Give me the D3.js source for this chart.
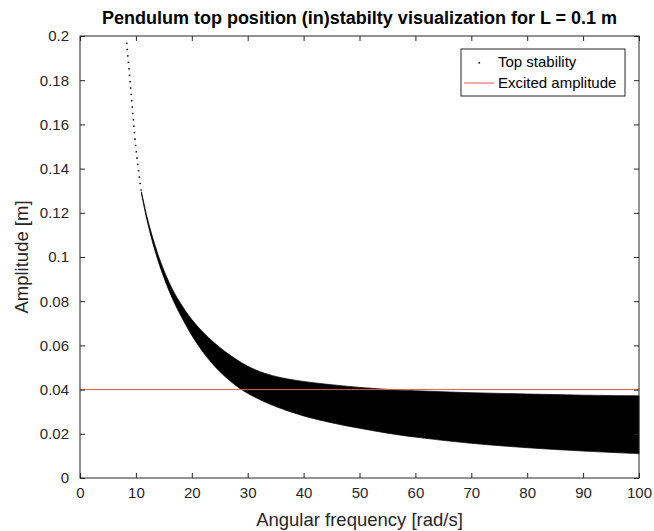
<!DOCTYPE html>
<html><head><meta charset="utf-8">
<script src="https://cdn.jsdelivr.net/npm/d3@7"></script>
<style>body{margin:0;background:#fff}svg{display:block}text{font-family:"Liberation Sans",Arial,sans-serif}</style>
</head><body>
<svg id="c" width="654" height="531"></svg>
<script>
const omega = [8.35, 9, 9.5, 10, 10.5, 11, 12, 13, 14, 15, 16, 17, 18, 20, 22, 24, 26, 28, 30, 33, 36, 40, 45, 50, 55, 60, 70, 80, 90, 100];
const lowerAmp = [0.197, 0.178, 0.163, 0.149, 0.138, 0.1285, 0.1165, 0.1065, 0.0980, 0.0907, 0.0843, 0.0786, 0.0736, 0.0645, 0.0570, 0.0508, 0.0458, 0.0416, 0.0383, 0.0345, 0.0314, 0.0281, 0.0250, 0.0225, 0.0203, 0.0185, 0.0157, 0.0137, 0.0122, 0.0110];
const upperAmp = [0.197, 0.1785, 0.1635, 0.1495, 0.1388, 0.1295, 0.1180, 0.1088, 0.1008, 0.0940, 0.0882, 0.0832, 0.0790, 0.0717, 0.0660, 0.0612, 0.0571, 0.0536, 0.0506, 0.0474, 0.0454, 0.0437, 0.0422, 0.0410, 0.0401, 0.0395, 0.0386, 0.0380, 0.0375, 0.0372];
const excitedAmplitude = 0.04;
const xTicks = [0,10,20,30,40,50,60,70,80,90,100];
const yTicks = [0,0.02,0.04,0.06,0.08,0.1,0.12,0.14,0.16,0.18,0.2];
const chartTitle = "Pendulum top position (in)stabilty visualization for L = 0.1 m";
const xLabel = "Angular frequency [rad/s]";
const yLabel = "Amplitude [m]";
const legendNames = ["Top stability", "Excited amplitude"];

const L = 80, R = 639, T = 36, B = 478;
const svg = d3.select("#c");
const x = d3.scaleLinear().domain([0,100]).range([L,R]);
const y = d3.scaleLinear().domain([0,0.2]).range([B,T]);
const axisCol = "#262626";
const red = "#e05858";

const band = omega.map((w,i)=>({w, lo: lowerAmp[i], hi: upperAmp[i]}));
const dottedEnd = 5; // index where the band becomes solid
const plot = svg.append("g");
plot.append("path")
  .datum(band.slice(dottedEnd))
  .attr("d", d3.area().x(d=>x(d.w)).y0(d=>y(d.lo)).y1(d=>y(d.hi)).curve(d3.curveCatmullRom.alpha(0.5)))
  .attr("fill","#000").attr("stroke","#000").attr("stroke-width",0.7);
plot.append("path")
  .datum(band.slice(0, dottedEnd+1))
  .attr("d", d3.line().x(d=>x(d.w)).y(d=>y((d.lo+d.hi)/2)).curve(d3.curveCatmullRom.alpha(0.5)))
  .attr("fill","none").attr("stroke","#000").attr("stroke-width",1.6).attr("stroke-dasharray","1.4,5");
plot.append("line")
  .attr("x1",x(0)).attr("x2",x(100)).attr("y1",y(excitedAmplitude)).attr("y2",y(excitedAmplitude))
  .attr("stroke",red).attr("stroke-width",1);

// axes (box with inward ticks)
const ax = svg.append("g");
const axBottom = d3.axisBottom(x).tickValues(xTicks).tickSize(-5).tickPadding(9).tickFormat(d3.format("d"));
const axLeft = d3.axisLeft(y).tickValues(yTicks).tickSize(-5).tickPadding(11).tickFormat(d=>d===0?"0":String(+d.toFixed(2)));
const axTop = d3.axisTop(x).tickValues(xTicks).tickSize(-5).tickFormat("");
const axRight = d3.axisRight(y).tickValues(yTicks).tickSize(-5).tickFormat("");
function styleAxis(g){
  g.selectAll("path").attr("stroke",axisCol).attr("stroke-width",1);
  g.selectAll("line").attr("stroke",axisCol).attr("stroke-width",1);
  g.selectAll("text").attr("fill",axisCol).attr("font-size",15).attr("font-family","Liberation Sans, Arial, sans-serif");
}
ax.append("g").attr("transform",`translate(0,${B})`).call(axBottom).call(styleAxis);
ax.append("g").attr("transform",`translate(${L},0)`).call(axLeft).call(styleAxis);
ax.append("g").attr("transform",`translate(0,${T})`).call(axTop).call(styleAxis);
ax.append("g").attr("transform",`translate(${R},0)`).call(axRight).call(styleAxis);
ax.selectAll(".domain").remove();
ax.append("rect").attr("x",L).attr("y",T).attr("width",R-L).attr("height",B-T)
  .attr("fill","none").attr("stroke",axisCol).attr("stroke-width",1);

svg.append("text").attr("x",(L+R)/2).attr("y",24).attr("text-anchor","middle")
  .attr("font-size",18).attr("font-weight","bold").attr("fill","#000").text(chartTitle);
svg.append("text").attr("x",(L+R)/2).attr("y",526).attr("text-anchor","middle")
  .attr("font-size",18.5).attr("fill",axisCol).text(xLabel);
svg.append("text").attr("transform",`translate(28,${(T+B)/2}) rotate(-90)`).attr("text-anchor","middle")
  .attr("font-size",18.5).attr("fill",axisCol).text(yLabel);

// legend
const lg = svg.append("g");
lg.append("rect").attr("x",461).attr("y",49).attr("width",164).attr("height",47)
  .attr("fill","#fff").attr("stroke",axisCol).attr("stroke-width",1);
lg.append("rect").attr("x",478.5).attr("y",62).attr("width",1.6).attr("height",1.6).attr("fill","#000");
lg.append("line").attr("x1",464).attr("x2",494).attr("y1",83).attr("y2",83).attr("stroke",red);
lg.selectAll("text.lg").data(legendNames).join("text").attr("class","lg")
  .attr("x",498).attr("y",(d,i)=>67+i*21).attr("font-size",15).attr("fill","#000").text(d=>d);
</script>
</body></html>
